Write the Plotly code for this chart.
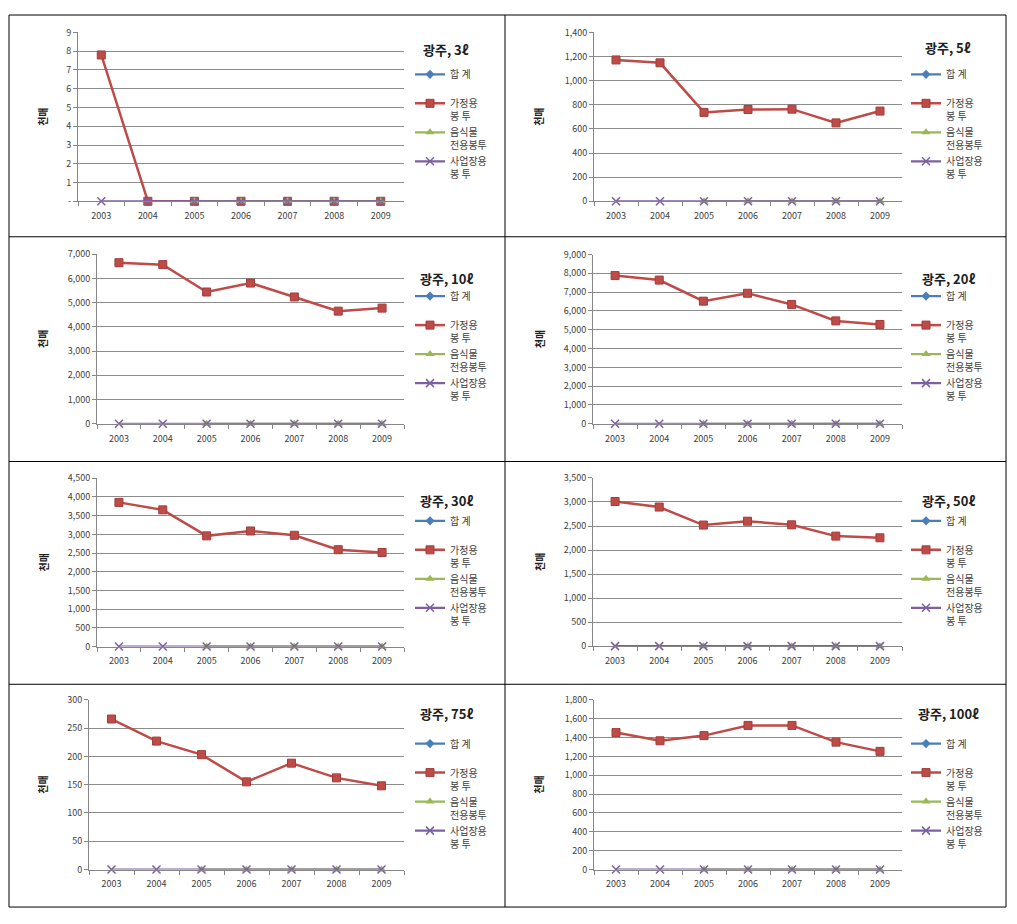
import plotly.graph_objects as go

# ---------------- data ----------------
years = ["2003", "2004", "2005", "2006", "2007", "2008", "2009"]
series_names = ["합 계<br>\u00a0", "가정용<br>봉 투", "음식물<br>전용봉투", "사업장용<br>봉 투"]
panel_titles = ["광주, 3ℓ", "광주, 5ℓ", "광주, 10ℓ", "광주, 20ℓ",
                "광주, 30ℓ", "광주, 50ℓ", "광주, 75ℓ", "광주, 100ℓ"]
y_label = "천매"

total_bag = [None, None, None, None, None, None, None]
food_bag = [None, None, 0, 0, 0, 0, 0]
business_bag = [0, 0, 0, 0, 0, 0, 0]

household_3l = [7.8, 0, 0, 0, 0, 0, 0]
household_5l = [1172, 1148, 737, 761, 764, 650, 748]
household_10l = [6650, 6570, 5440, 5810, 5235, 4650, 4775]
household_20l = [7880, 7640, 6520, 6940, 6345, 5470, 5280]
household_30l = [3855, 3655, 2960, 3090, 2975, 2590, 2515]
household_50l = [3010, 2895, 2520, 2600, 2525, 2290, 2255]
household_75l = [266, 227, 203, 155, 188, 162, 148]
household_100l = [1452, 1365, 1420, 1528, 1528, 1351, 1253]
household = [household_3l, household_5l, household_10l, household_20l,
             household_30l, household_50l, household_75l, household_100l]

y_max = [9, 1400, 7000, 9000, 4500, 3500, 300, 1800]
y_step = [1, 200, 1000, 1000, 500, 500, 50, 200]

# ---------------- layout geometry (page pixels) ----------------
W, H, OFF = 1001, 908, 8
def fx(p):
    return (p - OFF) / W
def fy(p):
    return 1 - (p - OFF) / H

plot_boxes = [(78, 404, 25.7, 197), (594, 902, 25.7, 197),
              (97, 404, 250.7, 422.7), (593, 902, 251, 422.7),
              (97, 404, 478, 648.7), (593, 902, 477.7, 648.3),
              (89, 404, 702.7, 875), (594, 902, 702.7, 875)]
panel_left = [9, 505] * 4
panel_top = [8, 8, 233, 233, 461, 461, 687, 687]
title_cx = [446, 948] * 4
title_dy = [35, 33, 42, 42, 40, 40, 30, 30]

FONT = "Noto Sans CJK KR"
BLUE, RED, GREEN, PURPLE = "#4A7EBB", "#BE4B48", "#98B954", "#7D60A0"
AXIS_C, GRID_C, TXT_C = "#868686", "#8C8C8C", "#404040"

fig = go.Figure()
layout = dict(width=W, height=H, margin=dict(l=0, r=0, t=0, b=0),
              paper_bgcolor="white", plot_bgcolor="white",
              font=dict(family=FONT, color=TXT_C), showlegend=True)
annotations = []
shapes = []

for i in range(8):
    n = i + 1
    sx = "" if n == 1 else str(n)
    xa, ya, lg = "x" + sx, "y" + sx, "legend" + sx
    common = dict(x=years, xaxis=xa, yaxis=ya, legend=lg, mode="lines+markers",
                  cliponaxis=False)
    fig.add_trace(go.Scatter(y=total_bag, name=series_names[0],
                             line=dict(color=BLUE, width=2.25),
                             marker=dict(symbol="diamond", size=7, color=BLUE), **common))
    fig.add_trace(go.Scatter(y=household[i], name=series_names[1],
                             line=dict(color=RED, width=2.5),
                             marker=dict(symbol="square", size=8, color=RED,
                                         line=dict(color="#A33D3A", width=1)), **common))
    fig.add_trace(go.Scatter(y=food_bag, name=series_names[2],
                             line=dict(color=GREEN, width=2.25),
                             marker=dict(symbol="triangle-up", size=8, color=GREEN), **common))
    fig.add_trace(go.Scatter(y=business_bag, name=series_names[3],
                             line=dict(color=PURPLE, width=2.25),
                             marker=dict(symbol="x-thin", size=8, color=PURPLE,
                                         line=dict(color=PURPLE, width=1.5)), **common))

    x0, x1, yt, yb = plot_boxes[i]
    tickvals = list(range(0, y_max[i] + 1, y_step[i]))
    ticktext = [f"{v:,}" for v in tickvals]
    if n == 1:
        ticktext[0] = "-"
    layout["xaxis" + sx] = dict(domain=[fx(x0), fx(x1)], anchor=ya, type="category",
                                range=[-0.5, 6.5], tickson="boundaries", ticks="outside",
                                ticklen=4, tickcolor=AXIS_C, showline=True, linecolor=AXIS_C,
                                showgrid=False, zeroline=False, ticklabelstandoff=6,
                                tickfont=dict(size=9, color=TXT_C, family=FONT))
    layout["yaxis" + sx] = dict(domain=[fy(yb), fy(yt)], anchor=xa, range=[0, y_max[i]],
                                tickmode="array", tickvals=tickvals, ticktext=ticktext,
                                ticks="outside", ticklen=4, tickcolor=AXIS_C,
                                showline=True, linecolor=AXIS_C, showgrid=True,
                                gridcolor=GRID_C, gridwidth=1, zeroline=False,
                                tickfont=dict(size=9, color=TXT_C, family=FONT))
    layout[lg] = dict(x=fx(panel_left[i] + 401), y=fy(panel_top[i] + 47),
                      xanchor="left", yanchor="top", valign="top", bgcolor="rgba(0,0,0,0)",
                      tracegroupgap=0, traceorder="normal", itemwidth=30,
                      font=dict(family=FONT, size=10, color=TXT_C))
    annotations.append(dict(text="<b>" + panel_titles[i] + "</b>", xref="paper", yref="paper",
                            x=fx(title_cx[i]), y=fy(panel_top[i] + title_dy[i]),
                            xanchor="center", yanchor="middle", showarrow=False,
                            font=dict(family=FONT, size=13, color="#202020")))
    annotations.append(dict(text="<b>" + y_label + "</b>", xref="paper", yref="paper",
                            x=fx(panel_left[i] + 34), y=fy((yt + yb) / 2), textangle=-90,
                            xanchor="center", yanchor="middle", showarrow=False,
                            font=dict(family=FONT, size=10, color="#202020")))

# panel frame lines (table borders)
border = dict(type="line", xref="paper", yref="paper", line=dict(color="black", width=1))
shapes.append(dict(type="rect", xref="paper", yref="paper", x0=fx(9), x1=fx(1006),
                   y0=fy(913), y1=fy(8), line=dict(color="black", width=1)))
shapes.append(dict(border, x0=fx(505), x1=fx(505), y0=fy(913), y1=fy(8)))
for yy in [233, 461, 687]:
    shapes.append(dict(border, x0=fx(9), x1=fx(1006), y0=fy(yy), y1=fy(yy)))

layout["annotations"] = annotations
layout["shapes"] = shapes
fig.update_layout(**layout)
fig.write_html("out.html")
